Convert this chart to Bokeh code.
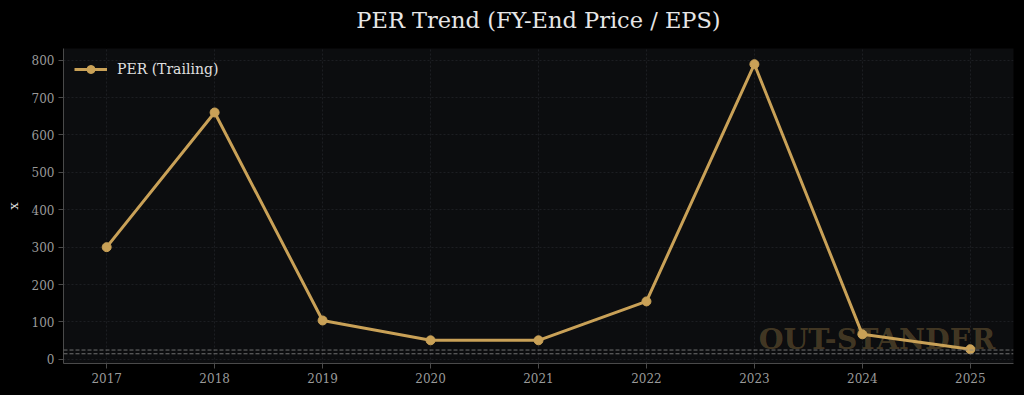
from bokeh.plotting import figure
from bokeh.models import Range1d, Span, Label, Legend, LegendItem, FixedTicker, ColumnDataSource, LinearAxis
from bokeh.embed import file_html
from bokeh.resources import INLINE

years = [2017, 2018, 2019, 2020, 2021, 2022, 2023, 2024, 2025]
per_trailing = [300, 660, 104, 51, 51, 155, 789, 67, 27]
ref_levels = [15, 25]
y_ticks = [0, 100, 200, 300, 400, 500, 600, 700, 800]
series_name = "PER (Trailing)"
title_text = "PER Trend (FY-End Price / EPS)"
watermark = "OUT-STANDER"

FONT = "DejaVu Serif"
GOLD = "#c9a157"

src = ColumnDataSource(dict(year=years, per=per_trailing))

p = figure(width=1024, height=395, output_backend="svg", toolbar_location=None,
           x_range=Range1d(2016.6, 2025.4), y_range=Range1d(-11, 831),
           min_border_left=63, min_border_right=11, min_border_top=48, min_border_bottom=32,
           background_fill_color="#0c0d0f", border_fill_color="#000000")
p.outline_line_color = None

p.title.text = title_text
p.title.align = "center"
p.title.text_font = FONT
p.title.text_font_size = "22.5px"
p.title.text_font_style = "normal"
p.title.text_color = "#e6e6e6"
p.title.standoff = 8

xb = p.below[0]
yl = p.left[0]

for ax in (xb, yl):
    ax.axis_line_color = "#4a4a4a"
    ax.major_tick_line_color = "#4a4a4a"
    ax.major_tick_out = 5
    ax.major_tick_in = 0
    ax.minor_tick_line_color = None
    ax.major_label_text_font = FONT
    ax.major_label_text_font_size = "12px"
    ax.major_label_text_color = "#9a9a9a"
    ax.major_label_standoff = 4

xb.ticker = FixedTicker(ticks=years)
yl.ticker = FixedTicker(ticks=y_ticks)
yl.axis_label = "x"
yl.axis_label_text_font = FONT
yl.axis_label_text_font_size = "13px"
yl.axis_label_text_font_style = "normal"
yl.axis_label_text_color = "#dddddd"
yl.axis_label_standoff = 8

p.xgrid.grid_line_color = "#1c1e22"
p.ygrid.grid_line_color = "#1c1e22"
p.xgrid.grid_line_dash = "2 2"
p.ygrid.grid_line_dash = "2 2"

# invisible spacer (black on black) between title and plot frame
spacer = LinearAxis(ticker=FixedTicker(ticks=years[:1]), axis_line_color=None,
                    major_tick_line_color="#000000", minor_tick_line_color=None,
                    major_tick_out=12, major_tick_in=0, minor_tick_out=0, minor_tick_in=0,
                    major_label_standoff=0, major_label_text_color=None,
                    major_label_text_font_size="1px")
p.add_layout(spacer, "above")

for lv in ref_levels:
    p.add_layout(Span(location=lv, dimension="width", line_color="#8a8a8a",
                      line_dash="4 2", line_width=1, line_alpha=0.8))

wm = Label(x=2025.23, y=54, text=watermark, text_font=FONT, text_font_size="28.5px",
           text_font_style="bold", text_color="#c9a157", text_alpha=0.3,
           text_align="right", text_baseline="alphabetic")
p.add_layout(wm)

r_line = p.line("year", "per", source=src, line_color=GOLD, line_width=3)
r_pts = p.scatter("year", "per", source=src, size=9, fill_color=GOLD, line_color=GOLD)

legend = Legend(items=[LegendItem(label=series_name, renderers=[r_line, r_pts])],
                location="top_left", background_fill_alpha=0, border_line_color=None,
                label_text_font=FONT, label_text_font_size="14px", label_text_color="#e0e0e0",
                glyph_width=33, label_standoff=10, margin=11, padding=4)
p.add_layout(legend)

html = file_html(p, INLINE)
html = html.replace("<head>", "<head><style>body{background:#000000;}</style>", 1)
open("out.html", "w").write(html)
